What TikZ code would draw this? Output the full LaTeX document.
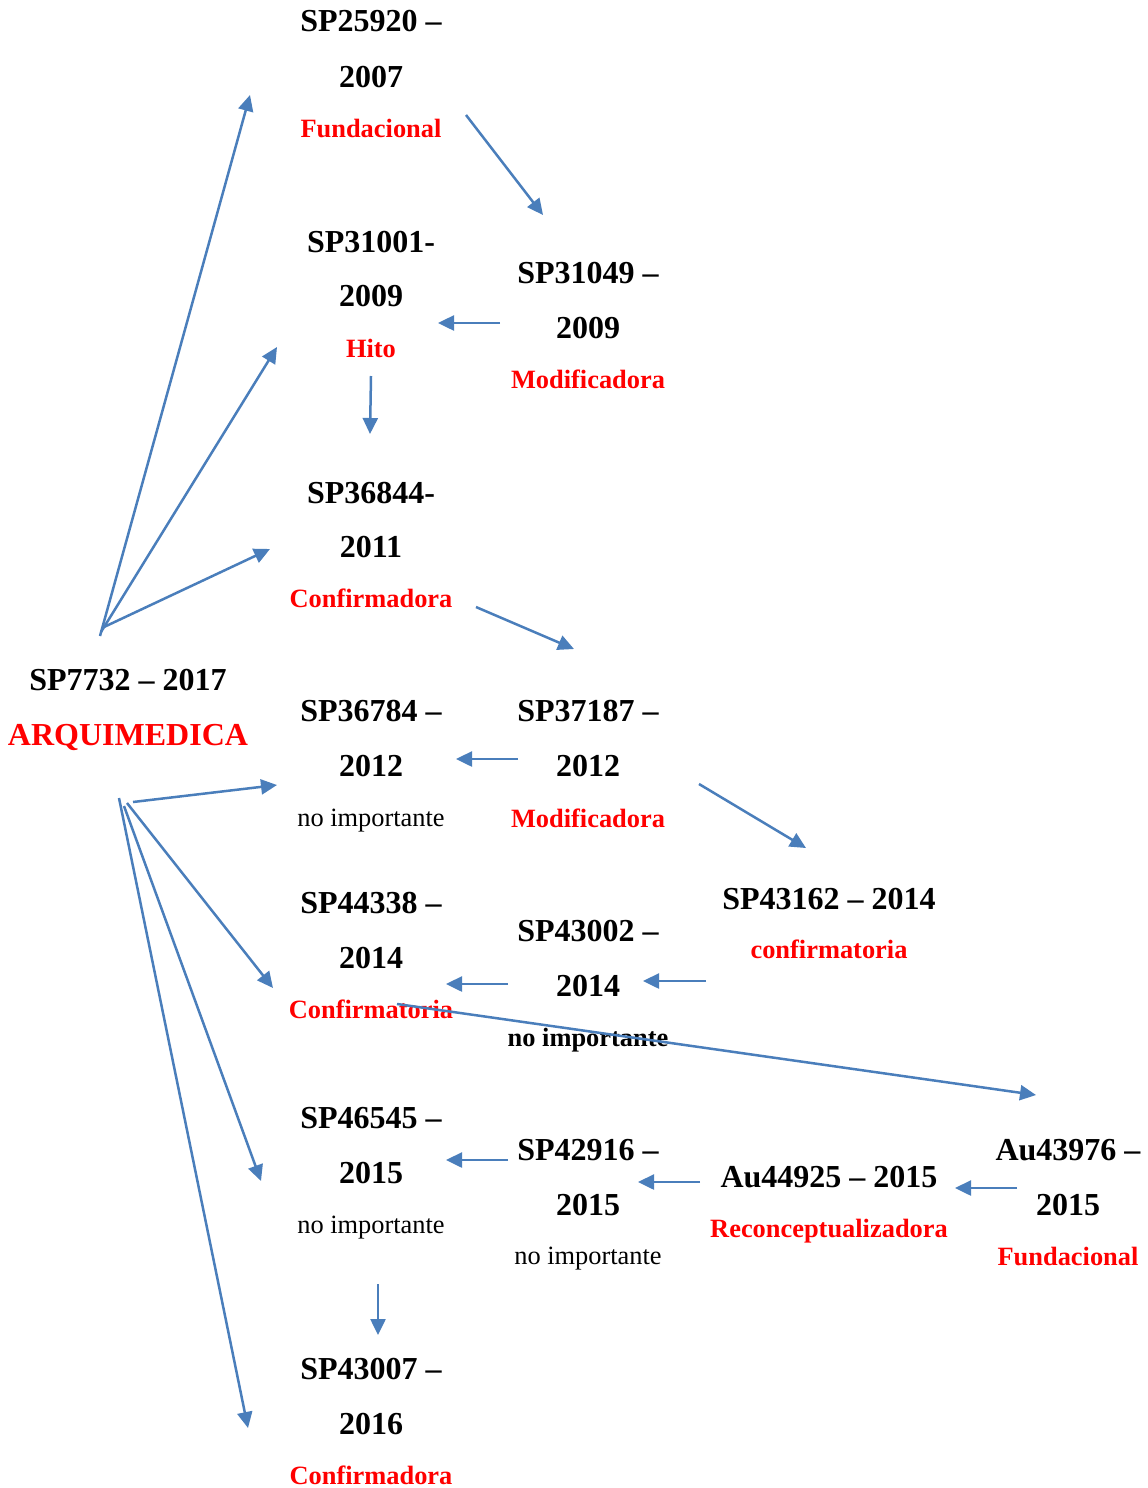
\documentclass[tikz,border=0pt]{standalone}
\usepackage{fontspec}
\setmainfont{Liberation Serif}
\usetikzlibrary{arrows.meta}
\definecolor{arrowblue}{RGB}{74,126,187}
\tikzset{
  blk/.style={font=\bfseries\fontsize{16}{19}\selectfont, anchor=base, inner sep=0pt},
  redt/.style={font=\bfseries\fontsize{13.2}{16}\selectfont, text=red, anchor=base, inner sep=0pt},
  bigred/.style={font=\bfseries\fontsize{16}{19}\selectfont, text=red, anchor=base, inner sep=0pt},
  plain/.style={font=\fontsize{13.2}{16}\selectfont, anchor=base, inner sep=0pt},
  plainb/.style={font=\bfseries\fontsize{13.2}{16}\selectfont, anchor=base, inner sep=0pt},
  conn/.style={draw=arrowblue, line width=1.25pt, -{Triangle[length=8pt,width=7.5pt]}}
}
\begin{document}
\begin{tikzpicture}[x=0.5pt,y=-0.5pt]
\useasboundingbox (0,0) rectangle (1147,1488);
% texts
\node[blk] (a1) at (371,32) {SP25920 –};
\node[blk] (a2) at (371,87) {2007};
\node[redt] (a3) at (371,137) {Fundacional};
\node[blk] (b1) at (371,252) {SP31001-};
\node[blk] (b2) at (371,306) {2009};
\node[redt] (b3) at (371,357) {Hito};
\node[blk] (c1) at (588,283) {SP31049 –};
\node[blk] (c2) at (588,338) {2009};
\node[redt] (c3) at (588,388) {Modificadora};
\node[blk] (d1) at (371,503) {SP36844-};
\node[blk] (d2) at (371,557) {2011};
\node[redt] (d3) at (371,607) {Confirmadora};
\node[blk] (e1) at (128,690) {SP7732 – 2017};
\node[bigred] (e2) at (128,745) {ARQUIMEDICA};
\node[blk] (f1) at (371,721) {SP36784 –};
\node[blk] (f2) at (371,776) {2012};
\node[plain] (f3) at (371,826) {no importante};
\node[blk] (g1) at (588,721) {SP37187 –};
\node[blk] (g2) at (588,776) {2012};
\node[redt] (g3) at (588,827) {Modificadora};
\node[blk] (h1) at (829,909) {SP43162 – 2014};
\node[redt] (h2) at (829,958) {confirmatoria};
\node[blk] (i1) at (371,913) {SP44338 –};
\node[blk] (i2) at (371,968) {2014};
\node[redt] (i3) at (371,1018) {Confirmatoria};
\node[blk] (j1) at (588,941) {SP43002 –};
\node[blk] (j2) at (588,996) {2014};
\node[plainb] (j3) at (588,1046) {no importante};
\node[blk] (k1) at (371,1128) {SP46545 –};
\node[blk] (k2) at (371,1183) {2015};
\node[plain] (k3) at (371,1233) {no importante};
\node[blk] (l1) at (588,1160) {SP42916 –};
\node[blk] (l2) at (588,1215) {2015};
\node[plain] (l3) at (588,1264) {no importante};
\node[blk] (m1) at (829,1187) {Au44925 – 2015};
\node[redt] (m2) at (829,1237) {Reconceptualizadora};
\node[blk] (n1) at (1068,1160) {Au43976 –};
\node[blk] (n2) at (1068,1215) {2015};
\node[redt] (n3) at (1068,1265) {Fundacional};
\node[blk] (o1) at (371,1379) {SP43007 –};
\node[blk] (o2) at (371,1434) {2016};
\node[redt] (o3) at (371,1484) {Confirmadora};
% arrow endpoints
\coordinate (ua) at (100,636);
\coordinate (ub) at (101,632);
\coordinate (uc) at (104,627);
\coordinate (ta) at (250,95);
\coordinate (tb) at (277,347);
\coordinate (tc) at (270,549);
\coordinate (ds) at (466,115);
\coordinate (de) at (543,215);
\coordinate (es) at (500,323);
\coordinate (ee) at (438,323);
\coordinate (fs) at (371,376);
\coordinate (fe) at (370,434);
\coordinate (gs) at (476,607);
\coordinate (ge) at (574,649);
\coordinate (hs) at (518,759);
\coordinate (he) at (456,759);
\coordinate (li) at (133,802);
\coordinate (ie) at (277,785);
\coordinate (js) at (699,784);
\coordinate (je) at (806,848);
\coordinate (lk) at (127,803);
\coordinate (ke) at (273,988);
\coordinate (ls) at (508,984);
\coordinate (le) at (446,984);
\coordinate (ms) at (706,981);
\coordinate (me) at (643,981);
\coordinate (ns) at (397,1004);
\coordinate (ne) at (1036,1095);
\coordinate (lo) at (124,806);
\coordinate (oe) at (261,1181);
\coordinate (lp) at (119,798);
\coordinate (pe) at (248,1428);
\coordinate (qs) at (508,1160);
\coordinate (qe) at (446,1160);
\coordinate (rs) at (700,1182);
\coordinate (re) at (638,1182);
\coordinate (ss) at (1017,1188);
\coordinate (se) at (955,1188);
\coordinate (tts) at (378,1284);
\coordinate (tte) at (378,1335);
% connectors
\draw[conn] (ua) -- (ta);
\draw[conn] (ub) -- (tb);
\draw[conn] (uc) -- (tc);
\draw[conn] (ds) -- (de);
\draw[conn] (es) -- (ee);
\draw[conn] (fs) -- (fe);
\draw[conn] (gs) -- (ge);
\draw[conn] (hs) -- (he);
\draw[conn] (li) -- (ie);
\draw[conn] (js) -- (je);
\draw[conn] (lk) -- (ke);
\draw[conn] (ls) -- (le);
\draw[conn] (ms) -- (me);
\draw[conn] (ns) -- (ne);
\draw[conn] (lo) -- (oe);
\draw[conn] (lp) -- (pe);
\draw[conn] (qs) -- (qe);
\draw[conn] (rs) -- (re);
\draw[conn] (ss) -- (se);
\draw[conn] (tts) -- (tte);
\end{tikzpicture}
\end{document}
